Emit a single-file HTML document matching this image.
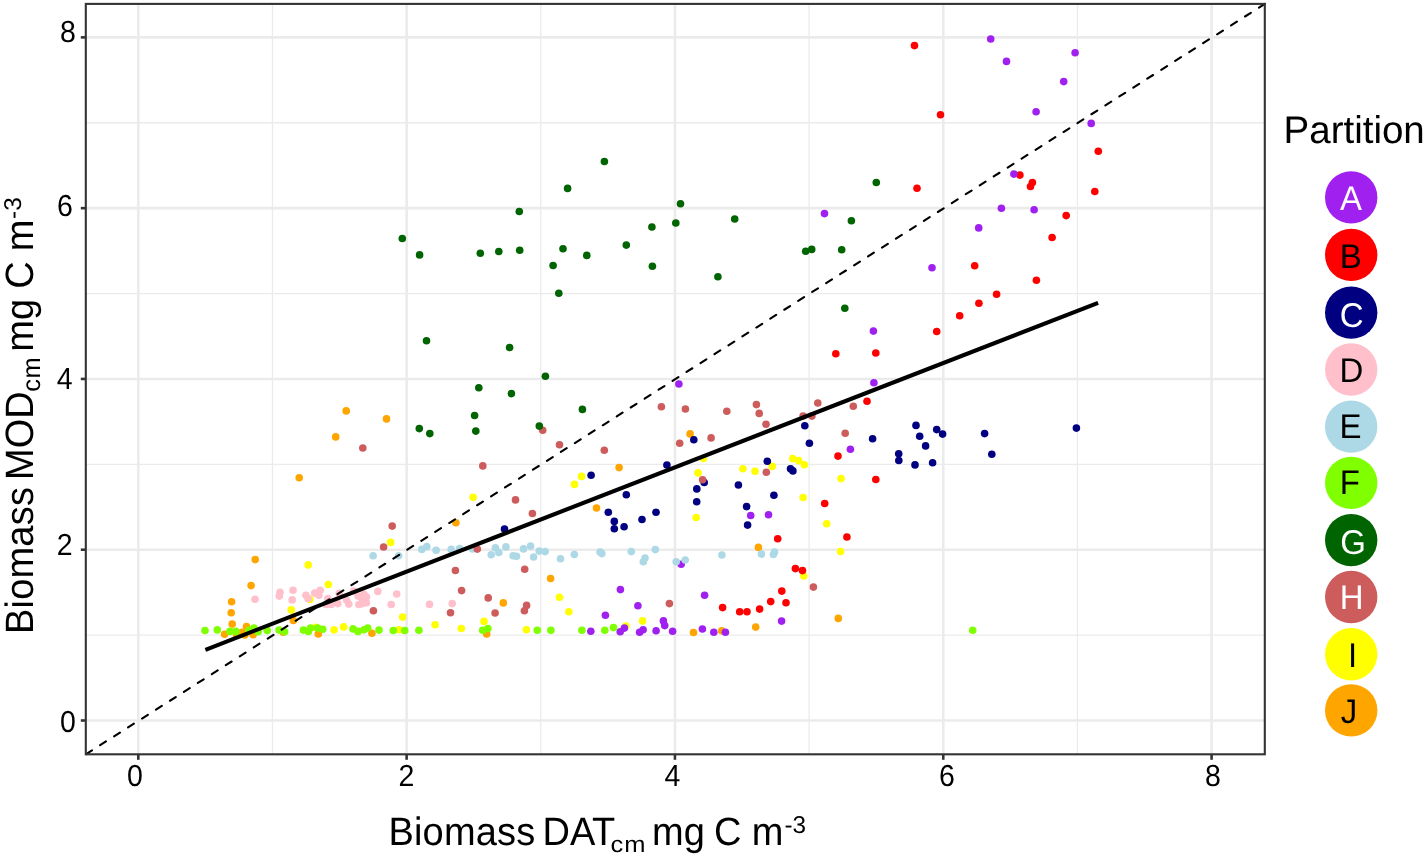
<!DOCTYPE html>
<html><head><meta charset="utf-8"><style>
html,body{margin:0;padding:0;background:#fff;overflow:hidden}
svg{display:block;will-change:transform}
text{font-family:"Liberation Sans",sans-serif;fill:#000;text-rendering:geometricPrecision}
</style></head><body>
<svg width="1427" height="857" viewBox="0 0 1427 857">
<rect x="0" y="0" width="1427" height="857" fill="#fff"/>
<line x1="85.8" x2="1264.8" y1="635.11" y2="635.11" stroke="#EBEBEB" stroke-width="1.3"/>
<line y1="3.9" y2="754.3" x1="272.46" x2="272.46" stroke="#EBEBEB" stroke-width="1.3"/>
<line x1="85.8" x2="1264.8" y1="464.33" y2="464.33" stroke="#EBEBEB" stroke-width="1.3"/>
<line y1="3.9" y2="754.3" x1="540.78" x2="540.78" stroke="#EBEBEB" stroke-width="1.3"/>
<line x1="85.8" x2="1264.8" y1="293.55" y2="293.55" stroke="#EBEBEB" stroke-width="1.3"/>
<line y1="3.9" y2="754.3" x1="809.10" x2="809.10" stroke="#EBEBEB" stroke-width="1.3"/>
<line x1="85.8" x2="1264.8" y1="122.77" y2="122.77" stroke="#EBEBEB" stroke-width="1.3"/>
<line y1="3.9" y2="754.3" x1="1077.42" x2="1077.42" stroke="#EBEBEB" stroke-width="1.3"/>
<line x1="85.8" x2="1264.8" y1="720.50" y2="720.50" stroke="#EBEBEB" stroke-width="2.6"/>
<line y1="3.9" y2="754.3" x1="138.30" x2="138.30" stroke="#EBEBEB" stroke-width="2.6"/>
<line x1="85.8" x2="1264.8" y1="549.72" y2="549.72" stroke="#EBEBEB" stroke-width="2.6"/>
<line y1="3.9" y2="754.3" x1="406.62" x2="406.62" stroke="#EBEBEB" stroke-width="2.6"/>
<line x1="85.8" x2="1264.8" y1="378.94" y2="378.94" stroke="#EBEBEB" stroke-width="2.6"/>
<line y1="3.9" y2="754.3" x1="674.94" x2="674.94" stroke="#EBEBEB" stroke-width="2.6"/>
<line x1="85.8" x2="1264.8" y1="208.16" y2="208.16" stroke="#EBEBEB" stroke-width="2.6"/>
<line y1="3.9" y2="754.3" x1="943.26" x2="943.26" stroke="#EBEBEB" stroke-width="2.6"/>
<line x1="85.8" x2="1264.8" y1="37.38" y2="37.38" stroke="#EBEBEB" stroke-width="2.6"/>
<line y1="3.9" y2="754.3" x1="1211.58" x2="1211.58" stroke="#EBEBEB" stroke-width="2.6"/>
<circle cx="703.4" cy="458.5" r="3.8" fill="#FFFF00"/>
<circle cx="698.0" cy="472.9" r="3.8" fill="#FFFF00"/>
<circle cx="742.9" cy="468.7" r="3.8" fill="#FFFF00"/>
<circle cx="755.0" cy="471.2" r="3.8" fill="#FFFF00"/>
<circle cx="772.2" cy="466.4" r="3.8" fill="#FFFF00"/>
<circle cx="792.7" cy="458.6" r="3.8" fill="#FFFF00"/>
<circle cx="798.6" cy="460.6" r="3.8" fill="#FFFF00"/>
<circle cx="804.3" cy="464.7" r="3.8" fill="#FFFF00"/>
<circle cx="841.0" cy="478.6" r="3.8" fill="#FFFF00"/>
<circle cx="803.1" cy="497.5" r="3.8" fill="#FFFF00"/>
<circle cx="696.2" cy="517.5" r="3.8" fill="#FFFF00"/>
<circle cx="826.7" cy="523.7" r="3.8" fill="#FFFF00"/>
<circle cx="840.6" cy="551.5" r="3.8" fill="#FFFF00"/>
<circle cx="803.8" cy="576.0" r="3.8" fill="#FFFF00"/>
<circle cx="581.5" cy="476.4" r="3.8" fill="#FFFF00"/>
<circle cx="574.5" cy="484.4" r="3.8" fill="#FFFF00"/>
<circle cx="473.1" cy="497.2" r="3.8" fill="#FFFF00"/>
<circle cx="435.1" cy="624.8" r="3.8" fill="#FFFF00"/>
<circle cx="461.3" cy="628.5" r="3.8" fill="#FFFF00"/>
<circle cx="484.0" cy="621.4" r="3.8" fill="#FFFF00"/>
<circle cx="526.4" cy="629.8" r="3.8" fill="#FFFF00"/>
<circle cx="559.5" cy="597.2" r="3.8" fill="#FFFF00"/>
<circle cx="568.8" cy="611.7" r="3.8" fill="#FFFF00"/>
<circle cx="642.6" cy="620.9" r="3.8" fill="#FFFF00"/>
<circle cx="625.8" cy="626.0" r="3.8" fill="#FFFF00"/>
<circle cx="390.6" cy="542.4" r="3.8" fill="#FFFF00"/>
<circle cx="308.2" cy="564.9" r="3.8" fill="#FFFF00"/>
<circle cx="309.7" cy="599.4" r="3.8" fill="#FFFF00"/>
<circle cx="328.4" cy="584.5" r="3.8" fill="#FFFF00"/>
<circle cx="402.6" cy="617.1" r="3.8" fill="#FFFF00"/>
<circle cx="315.6" cy="627.2" r="3.8" fill="#FFFF00"/>
<circle cx="334.1" cy="629.9" r="3.8" fill="#FFFF00"/>
<circle cx="343.6" cy="626.9" r="3.8" fill="#FFFF00"/>
<circle cx="399.2" cy="629.7" r="3.8" fill="#FFFF00"/>
<circle cx="291.2" cy="609.9" r="3.8" fill="#FFFF00"/>
<circle cx="690.1" cy="433.9" r="3.8" fill="#FFA500"/>
<circle cx="758.4" cy="547.4" r="3.8" fill="#FFA500"/>
<circle cx="838.3" cy="618.4" r="3.8" fill="#FFA500"/>
<circle cx="755.7" cy="627.1" r="3.8" fill="#FFA500"/>
<circle cx="693.5" cy="632.5" r="3.8" fill="#FFA500"/>
<circle cx="721.7" cy="630.8" r="3.8" fill="#FFA500"/>
<circle cx="619.1" cy="467.6" r="3.8" fill="#FFA500"/>
<circle cx="596.5" cy="508.0" r="3.8" fill="#FFA500"/>
<circle cx="455.9" cy="522.8" r="3.8" fill="#FFA500"/>
<circle cx="550.6" cy="578.5" r="3.8" fill="#FFA500"/>
<circle cx="503.3" cy="602.9" r="3.8" fill="#FFA500"/>
<circle cx="486.7" cy="634.0" r="3.8" fill="#FFA500"/>
<circle cx="346.2" cy="410.9" r="3.8" fill="#FFA500"/>
<circle cx="386.5" cy="418.9" r="3.8" fill="#FFA500"/>
<circle cx="335.7" cy="436.9" r="3.8" fill="#FFA500"/>
<circle cx="299.2" cy="477.8" r="3.8" fill="#FFA500"/>
<circle cx="318.3" cy="633.9" r="3.8" fill="#FFA500"/>
<circle cx="371.9" cy="633.2" r="3.8" fill="#FFA500"/>
<circle cx="255.2" cy="559.6" r="3.8" fill="#FFA500"/>
<circle cx="251.1" cy="585.6" r="3.8" fill="#FFA500"/>
<circle cx="231.6" cy="601.8" r="3.8" fill="#FFA500"/>
<circle cx="231.2" cy="612.7" r="3.8" fill="#FFA500"/>
<circle cx="232.2" cy="624.1" r="3.8" fill="#FFA500"/>
<circle cx="224.6" cy="634.2" r="3.8" fill="#FFA500"/>
<circle cx="246.5" cy="626.5" r="3.8" fill="#FFA500"/>
<circle cx="242.1" cy="632.2" r="3.8" fill="#FFA500"/>
<circle cx="253.1" cy="634.8" r="3.8" fill="#FFA500"/>
<circle cx="293.4" cy="620.5" r="3.8" fill="#FFA500"/>
<circle cx="283.3" cy="632.2" r="3.8" fill="#FFA500"/>
<circle cx="236.7" cy="635.3" r="3.8" fill="#FFA500"/>
<circle cx="244.8" cy="635.0" r="3.8" fill="#FFA500"/>
<circle cx="916.0" cy="425.4" r="3.8" fill="#000080"/>
<circle cx="936.7" cy="429.6" r="3.8" fill="#000080"/>
<circle cx="942.6" cy="434.1" r="3.8" fill="#000080"/>
<circle cx="919.7" cy="436.2" r="3.8" fill="#000080"/>
<circle cx="925.6" cy="445.9" r="3.8" fill="#000080"/>
<circle cx="898.7" cy="453.8" r="3.8" fill="#000080"/>
<circle cx="898.8" cy="460.5" r="3.8" fill="#000080"/>
<circle cx="915.0" cy="464.9" r="3.8" fill="#000080"/>
<circle cx="932.6" cy="462.7" r="3.8" fill="#000080"/>
<circle cx="984.6" cy="433.6" r="3.8" fill="#000080"/>
<circle cx="991.8" cy="454.3" r="3.8" fill="#000080"/>
<circle cx="1076.4" cy="428.1" r="3.8" fill="#000080"/>
<circle cx="693.8" cy="439.8" r="3.8" fill="#000080"/>
<circle cx="666.9" cy="465.0" r="3.8" fill="#000080"/>
<circle cx="804.8" cy="425.7" r="3.8" fill="#000080"/>
<circle cx="809.4" cy="443.3" r="3.8" fill="#000080"/>
<circle cx="872.6" cy="438.8" r="3.8" fill="#000080"/>
<circle cx="767.3" cy="461.3" r="3.8" fill="#000080"/>
<circle cx="790.5" cy="468.7" r="3.8" fill="#000080"/>
<circle cx="792.9" cy="470.9" r="3.8" fill="#000080"/>
<circle cx="704.2" cy="482.5" r="3.8" fill="#000080"/>
<circle cx="696.8" cy="488.9" r="3.8" fill="#000080"/>
<circle cx="738.4" cy="485.0" r="3.8" fill="#000080"/>
<circle cx="696.7" cy="501.8" r="3.8" fill="#000080"/>
<circle cx="773.9" cy="495.3" r="3.8" fill="#000080"/>
<circle cx="746.6" cy="506.6" r="3.8" fill="#000080"/>
<circle cx="656.0" cy="512.3" r="3.8" fill="#000080"/>
<circle cx="642.0" cy="519.5" r="3.8" fill="#000080"/>
<circle cx="747.6" cy="525.1" r="3.8" fill="#000080"/>
<circle cx="591.1" cy="475.2" r="3.8" fill="#000080"/>
<circle cx="626.3" cy="494.7" r="3.8" fill="#000080"/>
<circle cx="608.3" cy="512.3" r="3.8" fill="#000080"/>
<circle cx="614.3" cy="521.4" r="3.8" fill="#000080"/>
<circle cx="614.3" cy="528.7" r="3.8" fill="#000080"/>
<circle cx="624.1" cy="526.8" r="3.8" fill="#000080"/>
<circle cx="504.5" cy="529.0" r="3.8" fill="#000080"/>
<circle cx="429.5" cy="604.4" r="3.8" fill="#FFC0CB"/>
<circle cx="452.2" cy="603.6" r="3.8" fill="#FFC0CB"/>
<circle cx="305.9" cy="595.2" r="3.8" fill="#FFC0CB"/>
<circle cx="308.0" cy="598.6" r="3.8" fill="#FFC0CB"/>
<circle cx="314.7" cy="593.1" r="3.8" fill="#FFC0CB"/>
<circle cx="320.2" cy="590.2" r="3.8" fill="#FFC0CB"/>
<circle cx="318.9" cy="595.2" r="3.8" fill="#FFC0CB"/>
<circle cx="327.8" cy="598.6" r="3.8" fill="#FFC0CB"/>
<circle cx="326.1" cy="604.5" r="3.8" fill="#FFC0CB"/>
<circle cx="331.1" cy="604.5" r="3.8" fill="#FFC0CB"/>
<circle cx="337.8" cy="603.6" r="3.8" fill="#FFC0CB"/>
<circle cx="346.7" cy="600.3" r="3.8" fill="#FFC0CB"/>
<circle cx="348.8" cy="604.1" r="3.8" fill="#FFC0CB"/>
<circle cx="353.8" cy="591.0" r="3.8" fill="#FFC0CB"/>
<circle cx="358.0" cy="596.1" r="3.8" fill="#FFC0CB"/>
<circle cx="363.9" cy="594.4" r="3.8" fill="#FFC0CB"/>
<circle cx="366.4" cy="596.9" r="3.8" fill="#FFC0CB"/>
<circle cx="358.9" cy="604.5" r="3.8" fill="#FFC0CB"/>
<circle cx="362.2" cy="603.6" r="3.8" fill="#FFC0CB"/>
<circle cx="366.4" cy="602.8" r="3.8" fill="#FFC0CB"/>
<circle cx="377.8" cy="591.4" r="3.8" fill="#FFC0CB"/>
<circle cx="396.7" cy="594.0" r="3.8" fill="#FFC0CB"/>
<circle cx="391.2" cy="604.5" r="3.8" fill="#FFC0CB"/>
<circle cx="255.0" cy="599.2" r="3.8" fill="#FFC0CB"/>
<circle cx="280.0" cy="592.3" r="3.8" fill="#FFC0CB"/>
<circle cx="279.3" cy="596.1" r="3.8" fill="#FFC0CB"/>
<circle cx="293.0" cy="590.2" r="3.8" fill="#FFC0CB"/>
<circle cx="292.2" cy="599.9" r="3.8" fill="#FFC0CB"/>
<circle cx="362.5" cy="598.9" r="3.8" fill="#FFC0CB"/>
<circle cx="339.2" cy="593.2" r="3.8" fill="#FFC0CB"/>
<circle cx="914.5" cy="45.6" r="3.8" fill="#FF0000"/>
<circle cx="940.5" cy="114.7" r="3.8" fill="#FF0000"/>
<circle cx="1098.3" cy="151.2" r="3.8" fill="#FF0000"/>
<circle cx="1019.9" cy="175.1" r="3.8" fill="#FF0000"/>
<circle cx="1032.4" cy="182.6" r="3.8" fill="#FF0000"/>
<circle cx="1030.5" cy="186.5" r="3.8" fill="#FF0000"/>
<circle cx="917.0" cy="188.3" r="3.8" fill="#FF0000"/>
<circle cx="1094.8" cy="191.5" r="3.8" fill="#FF0000"/>
<circle cx="1066.2" cy="215.6" r="3.8" fill="#FF0000"/>
<circle cx="1052.1" cy="237.5" r="3.8" fill="#FF0000"/>
<circle cx="974.7" cy="265.7" r="3.8" fill="#FF0000"/>
<circle cx="1036.4" cy="280.3" r="3.8" fill="#FF0000"/>
<circle cx="996.6" cy="294.3" r="3.8" fill="#FF0000"/>
<circle cx="978.9" cy="303.2" r="3.8" fill="#FF0000"/>
<circle cx="959.7" cy="315.8" r="3.8" fill="#FF0000"/>
<circle cx="936.7" cy="331.5" r="3.8" fill="#FF0000"/>
<circle cx="835.8" cy="353.7" r="3.8" fill="#FF0000"/>
<circle cx="875.8" cy="353.0" r="3.8" fill="#FF0000"/>
<circle cx="867.0" cy="401.3" r="3.8" fill="#FF0000"/>
<circle cx="838.0" cy="456.1" r="3.8" fill="#FF0000"/>
<circle cx="875.8" cy="479.5" r="3.8" fill="#FF0000"/>
<circle cx="824.7" cy="503.5" r="3.8" fill="#FF0000"/>
<circle cx="777.7" cy="538.8" r="3.8" fill="#FF0000"/>
<circle cx="846.9" cy="537.0" r="3.8" fill="#FF0000"/>
<circle cx="795.4" cy="568.6" r="3.8" fill="#FF0000"/>
<circle cx="802.5" cy="570.6" r="3.8" fill="#FF0000"/>
<circle cx="781.8" cy="591.1" r="3.8" fill="#FF0000"/>
<circle cx="770.7" cy="601.6" r="3.8" fill="#FF0000"/>
<circle cx="786.0" cy="602.7" r="3.8" fill="#FF0000"/>
<circle cx="722.6" cy="607.6" r="3.8" fill="#FF0000"/>
<circle cx="739.7" cy="611.7" r="3.8" fill="#FF0000"/>
<circle cx="747.0" cy="611.7" r="3.8" fill="#FF0000"/>
<circle cx="759.6" cy="609.1" r="3.8" fill="#FF0000"/>
<circle cx="990.7" cy="39.0" r="3.8" fill="#A020F0"/>
<circle cx="1006.5" cy="61.4" r="3.8" fill="#A020F0"/>
<circle cx="1075.1" cy="52.8" r="3.8" fill="#A020F0"/>
<circle cx="1063.7" cy="81.6" r="3.8" fill="#A020F0"/>
<circle cx="1036.1" cy="111.7" r="3.8" fill="#A020F0"/>
<circle cx="1091.2" cy="123.4" r="3.8" fill="#A020F0"/>
<circle cx="1013.9" cy="174.1" r="3.8" fill="#A020F0"/>
<circle cx="1001.4" cy="208.2" r="3.8" fill="#A020F0"/>
<circle cx="1034.1" cy="209.7" r="3.8" fill="#A020F0"/>
<circle cx="978.7" cy="227.9" r="3.8" fill="#A020F0"/>
<circle cx="932.0" cy="267.7" r="3.8" fill="#A020F0"/>
<circle cx="824.5" cy="213.6" r="3.8" fill="#A020F0"/>
<circle cx="873.4" cy="331.1" r="3.8" fill="#A020F0"/>
<circle cx="873.9" cy="382.8" r="3.8" fill="#A020F0"/>
<circle cx="678.9" cy="384.0" r="3.8" fill="#A020F0"/>
<circle cx="850.4" cy="449.2" r="3.8" fill="#A020F0"/>
<circle cx="750.7" cy="515.5" r="3.8" fill="#A020F0"/>
<circle cx="768.5" cy="514.8" r="3.8" fill="#A020F0"/>
<circle cx="681.2" cy="564.2" r="3.8" fill="#A020F0"/>
<circle cx="704.6" cy="595.3" r="3.8" fill="#A020F0"/>
<circle cx="663.4" cy="620.9" r="3.8" fill="#A020F0"/>
<circle cx="664.7" cy="625.6" r="3.8" fill="#A020F0"/>
<circle cx="656.1" cy="630.8" r="3.8" fill="#A020F0"/>
<circle cx="672.6" cy="631.3" r="3.8" fill="#A020F0"/>
<circle cx="702.4" cy="629.0" r="3.8" fill="#A020F0"/>
<circle cx="713.8" cy="632.2" r="3.8" fill="#A020F0"/>
<circle cx="725.4" cy="632.2" r="3.8" fill="#A020F0"/>
<circle cx="781.6" cy="621.1" r="3.8" fill="#A020F0"/>
<circle cx="620.4" cy="589.6" r="3.8" fill="#A020F0"/>
<circle cx="637.9" cy="605.8" r="3.8" fill="#A020F0"/>
<circle cx="605.4" cy="615.2" r="3.8" fill="#A020F0"/>
<circle cx="590.8" cy="631.3" r="3.8" fill="#A020F0"/>
<circle cx="620.2" cy="631.8" r="3.8" fill="#A020F0"/>
<circle cx="624.4" cy="628.1" r="3.8" fill="#A020F0"/>
<circle cx="639.6" cy="632.3" r="3.8" fill="#A020F0"/>
<circle cx="643.1" cy="629.8" r="3.8" fill="#A020F0"/>
<circle cx="655.3" cy="549.6" r="3.8" fill="#ADD8E6"/>
<circle cx="645.0" cy="558.0" r="3.8" fill="#ADD8E6"/>
<circle cx="676.2" cy="561.7" r="3.8" fill="#ADD8E6"/>
<circle cx="685.2" cy="560.0" r="3.8" fill="#ADD8E6"/>
<circle cx="721.9" cy="555.0" r="3.8" fill="#ADD8E6"/>
<circle cx="761.4" cy="554.1" r="3.8" fill="#ADD8E6"/>
<circle cx="773.4" cy="554.5" r="3.8" fill="#ADD8E6"/>
<circle cx="774.5" cy="552.0" r="3.8" fill="#ADD8E6"/>
<circle cx="421.8" cy="549.4" r="3.8" fill="#ADD8E6"/>
<circle cx="426.8" cy="546.6" r="3.8" fill="#ADD8E6"/>
<circle cx="436.1" cy="550.3" r="3.8" fill="#ADD8E6"/>
<circle cx="451.2" cy="549.4" r="3.8" fill="#ADD8E6"/>
<circle cx="459.6" cy="548.6" r="3.8" fill="#ADD8E6"/>
<circle cx="472.6" cy="548.9" r="3.8" fill="#ADD8E6"/>
<circle cx="491.2" cy="554.8" r="3.8" fill="#ADD8E6"/>
<circle cx="495.4" cy="547.8" r="3.8" fill="#ADD8E6"/>
<circle cx="498.8" cy="552.5" r="3.8" fill="#ADD8E6"/>
<circle cx="505.9" cy="546.9" r="3.8" fill="#ADD8E6"/>
<circle cx="513.1" cy="555.8" r="3.8" fill="#ADD8E6"/>
<circle cx="516.5" cy="556.2" r="3.8" fill="#ADD8E6"/>
<circle cx="523.5" cy="548.9" r="3.8" fill="#ADD8E6"/>
<circle cx="530.6" cy="546.1" r="3.8" fill="#ADD8E6"/>
<circle cx="533.6" cy="557.0" r="3.8" fill="#ADD8E6"/>
<circle cx="539.2" cy="551.1" r="3.8" fill="#ADD8E6"/>
<circle cx="545.1" cy="551.6" r="3.8" fill="#ADD8E6"/>
<circle cx="560.5" cy="558.7" r="3.8" fill="#ADD8E6"/>
<circle cx="574.3" cy="554.5" r="3.8" fill="#ADD8E6"/>
<circle cx="600.0" cy="552.0" r="3.8" fill="#ADD8E6"/>
<circle cx="601.9" cy="553.6" r="3.8" fill="#ADD8E6"/>
<circle cx="631.3" cy="551.6" r="3.8" fill="#ADD8E6"/>
<circle cx="643.3" cy="561.7" r="3.8" fill="#ADD8E6"/>
<circle cx="373.1" cy="555.7" r="3.8" fill="#ADD8E6"/>
<circle cx="398.6" cy="555.8" r="3.8" fill="#ADD8E6"/>
<circle cx="661.4" cy="406.7" r="3.8" fill="#CD5C5C"/>
<circle cx="685.4" cy="409.0" r="3.8" fill="#CD5C5C"/>
<circle cx="726.8" cy="411.2" r="3.8" fill="#CD5C5C"/>
<circle cx="756.4" cy="404.6" r="3.8" fill="#CD5C5C"/>
<circle cx="759.2" cy="413.4" r="3.8" fill="#CD5C5C"/>
<circle cx="766.0" cy="424.3" r="3.8" fill="#CD5C5C"/>
<circle cx="817.8" cy="403.0" r="3.8" fill="#CD5C5C"/>
<circle cx="853.3" cy="406.3" r="3.8" fill="#CD5C5C"/>
<circle cx="803.1" cy="416.1" r="3.8" fill="#CD5C5C"/>
<circle cx="811.9" cy="416.1" r="3.8" fill="#CD5C5C"/>
<circle cx="845.2" cy="433.2" r="3.8" fill="#CD5C5C"/>
<circle cx="679.7" cy="443.3" r="3.8" fill="#CD5C5C"/>
<circle cx="711.1" cy="437.9" r="3.8" fill="#CD5C5C"/>
<circle cx="766.3" cy="472.2" r="3.8" fill="#CD5C5C"/>
<circle cx="702.6" cy="479.8" r="3.8" fill="#CD5C5C"/>
<circle cx="813.4" cy="587.1" r="3.8" fill="#CD5C5C"/>
<circle cx="669.4" cy="603.6" r="3.8" fill="#CD5C5C"/>
<circle cx="542.7" cy="430.3" r="3.8" fill="#CD5C5C"/>
<circle cx="559.5" cy="444.7" r="3.8" fill="#CD5C5C"/>
<circle cx="604.3" cy="450.3" r="3.8" fill="#CD5C5C"/>
<circle cx="482.8" cy="465.9" r="3.8" fill="#CD5C5C"/>
<circle cx="515.5" cy="499.9" r="3.8" fill="#CD5C5C"/>
<circle cx="532.4" cy="513.5" r="3.8" fill="#CD5C5C"/>
<circle cx="477.3" cy="549.1" r="3.8" fill="#CD5C5C"/>
<circle cx="455.4" cy="570.5" r="3.8" fill="#CD5C5C"/>
<circle cx="524.7" cy="569.3" r="3.8" fill="#CD5C5C"/>
<circle cx="461.6" cy="590.6" r="3.8" fill="#CD5C5C"/>
<circle cx="488.2" cy="597.9" r="3.8" fill="#CD5C5C"/>
<circle cx="450.5" cy="612.8" r="3.8" fill="#CD5C5C"/>
<circle cx="495.1" cy="613.0" r="3.8" fill="#CD5C5C"/>
<circle cx="526.6" cy="605.4" r="3.8" fill="#CD5C5C"/>
<circle cx="524.4" cy="610.8" r="3.8" fill="#CD5C5C"/>
<circle cx="362.8" cy="448.0" r="3.8" fill="#CD5C5C"/>
<circle cx="392.2" cy="526.1" r="3.8" fill="#CD5C5C"/>
<circle cx="383.6" cy="547.0" r="3.8" fill="#CD5C5C"/>
<circle cx="373.4" cy="610.8" r="3.8" fill="#CD5C5C"/>
<circle cx="972.7" cy="630.2" r="3.8" fill="#7FFF00"/>
<circle cx="418.9" cy="630.2" r="3.8" fill="#7FFF00"/>
<circle cx="482.7" cy="630.3" r="3.8" fill="#7FFF00"/>
<circle cx="487.9" cy="628.5" r="3.8" fill="#7FFF00"/>
<circle cx="537.3" cy="630.2" r="3.8" fill="#7FFF00"/>
<circle cx="550.9" cy="630.3" r="3.8" fill="#7FFF00"/>
<circle cx="581.9" cy="630.3" r="3.8" fill="#7FFF00"/>
<circle cx="604.8" cy="630.3" r="3.8" fill="#7FFF00"/>
<circle cx="613.5" cy="627.6" r="3.8" fill="#7FFF00"/>
<circle cx="303.4" cy="630.1" r="3.8" fill="#7FFF00"/>
<circle cx="308.4" cy="631.4" r="3.8" fill="#7FFF00"/>
<circle cx="310.5" cy="628.0" r="3.8" fill="#7FFF00"/>
<circle cx="317.7" cy="628.0" r="3.8" fill="#7FFF00"/>
<circle cx="322.7" cy="629.3" r="3.8" fill="#7FFF00"/>
<circle cx="353.0" cy="628.9" r="3.8" fill="#7FFF00"/>
<circle cx="358.0" cy="631.4" r="3.8" fill="#7FFF00"/>
<circle cx="363.9" cy="629.7" r="3.8" fill="#7FFF00"/>
<circle cx="367.7" cy="628.0" r="3.8" fill="#7FFF00"/>
<circle cx="379.0" cy="630.1" r="3.8" fill="#7FFF00"/>
<circle cx="393.3" cy="630.5" r="3.8" fill="#7FFF00"/>
<circle cx="404.7" cy="630.5" r="3.8" fill="#7FFF00"/>
<circle cx="205.0" cy="630.5" r="3.8" fill="#7FFF00"/>
<circle cx="217.3" cy="629.9" r="3.8" fill="#7FFF00"/>
<circle cx="229.9" cy="631.4" r="3.8" fill="#7FFF00"/>
<circle cx="235.8" cy="631.4" r="3.8" fill="#7FFF00"/>
<circle cx="253.9" cy="628.0" r="3.8" fill="#7FFF00"/>
<circle cx="258.1" cy="631.8" r="3.8" fill="#7FFF00"/>
<circle cx="267.2" cy="630.4" r="3.8" fill="#7FFF00"/>
<circle cx="279.1" cy="630.1" r="3.8" fill="#7FFF00"/>
<circle cx="284.6" cy="631.8" r="3.8" fill="#7FFF00"/>
<circle cx="248.8" cy="630.3" r="3.8" fill="#7FFF00"/>
<circle cx="680.5" cy="203.7" r="3.8" fill="#006400"/>
<circle cx="675.8" cy="223.0" r="3.8" fill="#006400"/>
<circle cx="651.9" cy="227.0" r="3.8" fill="#006400"/>
<circle cx="734.7" cy="219.0" r="3.8" fill="#006400"/>
<circle cx="876.3" cy="182.5" r="3.8" fill="#006400"/>
<circle cx="851.4" cy="220.8" r="3.8" fill="#006400"/>
<circle cx="805.7" cy="251.3" r="3.8" fill="#006400"/>
<circle cx="811.7" cy="249.4" r="3.8" fill="#006400"/>
<circle cx="841.7" cy="249.7" r="3.8" fill="#006400"/>
<circle cx="652.4" cy="266.2" r="3.8" fill="#006400"/>
<circle cx="717.9" cy="276.8" r="3.8" fill="#006400"/>
<circle cx="844.8" cy="308.3" r="3.8" fill="#006400"/>
<circle cx="604.4" cy="161.5" r="3.8" fill="#006400"/>
<circle cx="567.6" cy="188.4" r="3.8" fill="#006400"/>
<circle cx="519.3" cy="211.5" r="3.8" fill="#006400"/>
<circle cx="419.6" cy="254.9" r="3.8" fill="#006400"/>
<circle cx="480.3" cy="253.2" r="3.8" fill="#006400"/>
<circle cx="498.8" cy="251.5" r="3.8" fill="#006400"/>
<circle cx="519.7" cy="250.2" r="3.8" fill="#006400"/>
<circle cx="563.0" cy="248.8" r="3.8" fill="#006400"/>
<circle cx="553.1" cy="265.5" r="3.8" fill="#006400"/>
<circle cx="586.8" cy="255.4" r="3.8" fill="#006400"/>
<circle cx="626.3" cy="245.1" r="3.8" fill="#006400"/>
<circle cx="558.8" cy="293.2" r="3.8" fill="#006400"/>
<circle cx="426.5" cy="340.8" r="3.8" fill="#006400"/>
<circle cx="509.6" cy="347.5" r="3.8" fill="#006400"/>
<circle cx="545.4" cy="376.3" r="3.8" fill="#006400"/>
<circle cx="478.8" cy="387.7" r="3.8" fill="#006400"/>
<circle cx="511.4" cy="393.6" r="3.8" fill="#006400"/>
<circle cx="419.3" cy="428.6" r="3.8" fill="#006400"/>
<circle cx="429.8" cy="433.6" r="3.8" fill="#006400"/>
<circle cx="474.6" cy="415.5" r="3.8" fill="#006400"/>
<circle cx="475.8" cy="431.1" r="3.8" fill="#006400"/>
<circle cx="582.4" cy="409.4" r="3.8" fill="#006400"/>
<circle cx="539.3" cy="426.1" r="3.8" fill="#006400"/>
<circle cx="402.3" cy="238.5" r="3.8" fill="#006400"/>
<line x1="1264.8" y1="3.9" x2="85.8" y2="754.3" stroke="#000" stroke-width="2.1" stroke-dasharray="6.9 9.65" stroke-linecap="round"/>
<line x1="205.4" y1="649.8" x2="1098.1" y2="302.9" stroke="#000" stroke-width="4.1"/>
<rect x="85.8" y="3.9" width="1179.0" height="750.4" fill="none" stroke="#333" stroke-width="2.1"/>
<line x1="138.30" x2="138.30" y1="754.3" y2="759.8" stroke="#333" stroke-width="2.6"/>
<line y1="720.50" y2="720.50" x1="85.8" x2="80.8" stroke="#333" stroke-width="2.6"/>
<line x1="406.62" x2="406.62" y1="754.3" y2="759.8" stroke="#333" stroke-width="2.6"/>
<line y1="549.72" y2="549.72" x1="85.8" x2="80.8" stroke="#333" stroke-width="2.6"/>
<line x1="674.94" x2="674.94" y1="754.3" y2="759.8" stroke="#333" stroke-width="2.6"/>
<line y1="378.94" y2="378.94" x1="85.8" x2="80.8" stroke="#333" stroke-width="2.6"/>
<line x1="943.26" x2="943.26" y1="754.3" y2="759.8" stroke="#333" stroke-width="2.6"/>
<line y1="208.16" y2="208.16" x1="85.8" x2="80.8" stroke="#333" stroke-width="2.6"/>
<line x1="1211.58" x2="1211.58" y1="754.3" y2="759.8" stroke="#333" stroke-width="2.6"/>
<line y1="37.38" y2="37.38" x1="85.8" x2="80.8" stroke="#333" stroke-width="2.6"/>
<text transform="translate(67.80,731.70) scale(1,1.07)" font-size="28.5" text-anchor="middle"  style="">0</text>
<text transform="translate(64.60,554.80) scale(1,1.07)" font-size="28.5" text-anchor="middle"  style="">2</text>
<text transform="translate(64.55,388.80) scale(1,1.07)" font-size="28.5" text-anchor="middle"  style="">4</text>
<text transform="translate(65.00,215.50) scale(1,1.07)" font-size="28.5" text-anchor="middle"  style="">6</text>
<text transform="translate(68.00,41.70) scale(1,1.07)" font-size="28.5" text-anchor="middle"  style="">8</text>
<text transform="translate(134.95,785.50) scale(1,1.07)" font-size="28.5" text-anchor="middle"  style="">0</text>
<text transform="translate(406.50,785.80) scale(1,1.07)" font-size="28.5" text-anchor="middle"  style="">2</text>
<text transform="translate(672.50,785.80) scale(1,1.07)" font-size="28.5" text-anchor="middle"  style="">4</text>
<text transform="translate(946.90,785.80) scale(1,1.07)" font-size="28.5" text-anchor="middle"  style="">6</text>
<text transform="translate(1212.95,785.50) scale(1,1.07)" font-size="28.5" text-anchor="middle"  style="">8</text>
<g transform="translate(0,845.0)"><text transform="translate(388.38,0.00) scale(1,1.04)" font-size="38" letter-spacing="0.2">Biomass</text><text transform="translate(542.58,0.00) scale(1,1.04)" font-size="38">DA<tspan dx="-0.6">T</tspan></text><text transform="translate(610.62,6.90) scale(1,0.89)" font-size="25.5" letter-spacing="0.9">cm</text><text transform="translate(651.98,0.00) scale(1,1.04)" font-size="38">mg</text><text transform="translate(713.97,0.00) scale(1,1.04)" font-size="38">C</text><text transform="translate(751.78,0.00) scale(1,1.04)" font-size="38">m</text><text transform="translate(784.52,-12.40) scale(1,1.0)" font-size="24.3">-3</text></g>
<g transform="translate(32.7,630.9) rotate(-90)"><text transform="translate(-3.12,0.00) scale(1,1.04)" font-size="38" letter-spacing="0.2">Biomass</text><text transform="translate(150.98,0.00) scale(1,1.04)" font-size="38">MOD</text><text transform="translate(239.22,7.60) scale(1,1.0)" font-size="25.5" letter-spacing="0.5">cm</text><text transform="translate(279.18,0.00) scale(1,1.04)" font-size="38">mg</text><text transform="translate(342.17,0.00) scale(1,1.04)" font-size="38">C</text><text transform="translate(379.58,0.00) scale(1,1.04)" font-size="38">m</text><text transform="translate(412.02,-11.60) scale(1,1.0)" font-size="24.3">-3</text></g>
<text transform="translate(1283.5430000000001,143.0) scale(1,1.0)" font-size="38.5">Partition</text>
<circle cx="1351.2" cy="197.40" r="26.2" fill="#A020F0"/>
<text transform="translate(1350.90,209.81) scale(1,1.04)" font-size="33" text-anchor="middle"  style="fill:#fff">A</text>
<circle cx="1351.2" cy="254.90" r="26.2" fill="#FF0000"/>
<text transform="translate(1350.70,267.51) scale(1,1.04)" font-size="33" text-anchor="middle"  style="fill:#000">B</text>
<circle cx="1351.2" cy="312.60" r="26.2" fill="#000080"/>
<text transform="translate(1351.60,326.61) scale(1,1.04)" font-size="33" text-anchor="middle"  style="fill:#fff">C</text>
<circle cx="1351.2" cy="369.50" r="26.2" fill="#FFC0CB"/>
<text transform="translate(1351.50,382.21) scale(1,1.04)" font-size="33" text-anchor="middle"  style="fill:#000">D</text>
<circle cx="1351.2" cy="426.60" r="26.2" fill="#ADD8E6"/>
<text transform="translate(1350.60,438.01) scale(1,1.04)" font-size="33" text-anchor="middle"  style="fill:#000">E</text>
<circle cx="1351.2" cy="482.90" r="26.2" fill="#7FFF00"/>
<text transform="translate(1349.80,493.61) scale(1,1.04)" font-size="33" text-anchor="middle"  style="fill:#000">F</text>
<circle cx="1351.2" cy="540.10" r="26.2" fill="#006400"/>
<text transform="translate(1353.20,554.01) scale(1,1.04)" font-size="33" text-anchor="middle"  style="fill:#fff">G</text>
<circle cx="1351.2" cy="597.00" r="26.2" fill="#CD5C5C"/>
<text transform="translate(1351.65,608.56) scale(1,1.04)" font-size="33" text-anchor="middle"  style="fill:#fff">H</text>
<circle cx="1351.2" cy="654.30" r="26.2" fill="#FFFF00"/>
<text transform="translate(1352.50,667.31) scale(1,1.04)" font-size="33" text-anchor="middle"  style="fill:#000">I</text>
<circle cx="1351.2" cy="710.40" r="26.2" fill="#FFA500"/>
<text transform="translate(1349.00,723.31) scale(1,1.04)" font-size="33" text-anchor="middle"  style="fill:#000">J</text>
</svg></body></html>
